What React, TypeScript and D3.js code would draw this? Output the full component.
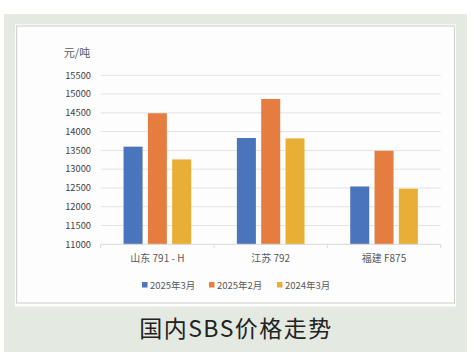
import React from "react";
import * as d3 from "d3";

const categories = ["山东 791 - H", "江苏 792", "福建 F875"];
const seriesNames = ["2025年3月", "2025年2月", "2024年3月"];
const mar2025 = [13600, 13830, 12540];
const feb2025 = [14490, 14870, 13490];
const mar2024 = [13260, 13820, 12480];
const yTicks = [11000, 11500, 12000, 12500, 13000, 13500, 14000, 14500, 15000, 15500];
const colors = ["#4A74BB", "#E67D40", "#E8AE36"];

export default function App() {
  const W = 474, H = 357;
  const series = [mar2025, feb2025, mar2024];
  const left = 100.7, right = 440.7;
  const y = d3.scaleLinear().domain([11000, 15500]).range([244.3, 75.3]);
  const x0 = d3.scaleBand<string>().domain(categories).range([left, right]).paddingInner(0).paddingOuter(0);
  const x1 = d3.scaleBand<string>().domain(seriesNames).range([0, x0.bandwidth()]).paddingInner(0.218).paddingOuter(0.94);
  const font = "'Noto Sans CJK SC', 'Noto Sans', sans-serif";
  const legendX = [142, 209, 277];
  return (
    <svg width={W} height={H} style={{ position: "absolute", left: 0, top: 0 }} fontFamily={font}>
      <rect x={0} y={0} width={W} height={H} fill="#fff" />
      <rect x={4} y={14} width={463} height={338} fill="#E4EAE1" />
      <rect x={15} y={24.5} width={441} height={282} fill="#fff" />
      <rect x={16.5} y={26} width={438} height={277} fill="#FDFDFD" stroke="#D6D1D1" strokeWidth={1.2} />
      <text x={77} y={57} textAnchor="middle" fontSize={11} fill="#595959">元/吨</text>
      {yTicks.map((t) => (
        <g key={t}>
          {t !== 11000 && (
            <line x1={left} x2={right} y1={y(t)} y2={y(t)} stroke="#E3E3E3" strokeWidth={1} />
          )}
          <text x={91} y={y(t) + 3.3} textAnchor="end" fontSize={9.3} fill="#404040">{t}</text>
        </g>
      ))}
      {categories.map((c, i) => (
        <g key={c}>
          {series.map((s, j) => (
            <rect
              key={j}
              x={(x0(c) as number) + (x1(seriesNames[j]) as number)}
              y={y(s[i])}
              width={x1.bandwidth()}
              height={y(11000) - y(s[i])}
              fill={colors[j]}
            />
          ))}
          <text x={(x0(c) as number) + x0.bandwidth() / 2} y={262} textAnchor="middle" fontSize={10} fill="#595959">{c}</text>
        </g>
      ))}
      <line x1={left} x2={right} y1={y(11000)} y2={y(11000)} stroke="#D9D9D9" strokeWidth={1} />
      {[0, 1, 2, 3].map((k) => {
        const xx = left + k * x0.bandwidth();
        return <line key={k} x1={xx} x2={xx} y1={y(11000)} y2={y(11000) + 4} stroke="#D9D9D9" />;
      })}
      {seriesNames.map((n, j) => (
        <g key={n}>
          <rect x={legendX[j]} y={282} width={5.5} height={5.5} fill={colors[j]} />
          <text x={legendX[j] + 8} y={288.5} fontSize={9.5} fill="#595959">{n}</text>
        </g>
      ))}
      <text x={236} y={337} textAnchor="middle" fontSize={23} fill="#222" letterSpacing={1.5}>国内SBS价格走势</text>
    </svg>
  );
}
